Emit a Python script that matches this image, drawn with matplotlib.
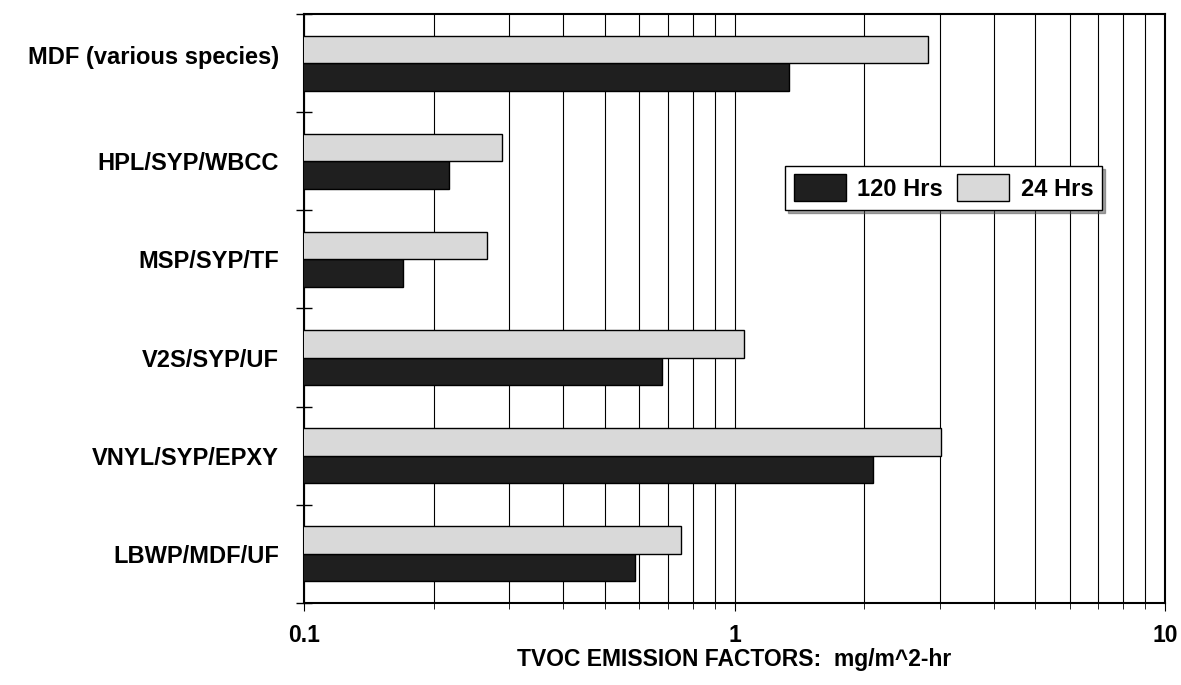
import numpy as np
import matplotlib
matplotlib.use('Agg')
import matplotlib.pyplot as plt
import matplotlib.transforms as mtransforms

# Daten
materials = ["MDF (various species)", "HPL/SYP/WBCC", "MSP/SYP/TF",
             "V2S/SYP/UF", "VNYL/SYP/EPXY", "LBWP/MDF/UF"]
hrs_120 = [1.34, 0.217, 0.170, 0.68, 2.10, 0.587]
hrs_24 = [2.81, 0.288, 0.266, 1.05, 3.02, 0.751]

plt.rcParams['font.family'] = ['Liberation Sans', 'DejaVu Sans']
plt.rcParams['font.weight'] = 'bold'

fig = plt.figure(figsize=(11.81, 6.85), dpi=100)
ax = fig.add_axes([0.2574, 0.1197, 0.7291, 0.8599])

y = np.arange(len(materials))
h = 0.28

# Balken
b120 = ax.barh(y + h / 2, hrs_120, height=h, color='#1f1f1f',
               edgecolor='black', linewidth=1, zorder=3, label='120 Hrs')
b24 = ax.barh(y - h / 2, hrs_24, height=h, color='#d9d9d9',
              edgecolor='black', linewidth=1, zorder=3, label='24 Hrs')

ax.set_xscale('log')
ax.set_xlim(0.1, 10)
ax.set_ylim(len(materials) - 0.5, -0.5)

# Gitterlinien
ax.grid(which='both', axis='x', color='black', linewidth=0.8, zorder=1)

# x-Achse
ax.set_xticks([0.1, 1, 10])
ax.set_xticklabels(['0.1', '1', '10'], fontsize=16.5, fontweight='bold')
ax.tick_params(axis='x', which='major', direction='out', length=6, pad=9)
ax.tick_params(axis='x', which='minor', direction='out', length=4, labelbottom=False)
ax.set_xlabel('TVOC EMISSION FACTORS:  mg/m^2-hr', fontsize=16.5,
              fontweight='bold', labelpad=1)

# y-Achse: Striche an den Grenzen, Beschriftungen in der Mitte
ax.set_yticks(np.arange(len(materials) + 1) - 0.5)
ax.set_yticklabels([])
ax.tick_params(axis='y', which='major', direction='inout', length=12, width=1)
ax.set_yticks(y, minor=True)
ax.set_yticklabels(materials, minor=True, fontsize=17, fontweight='bold')
ax.tick_params(axis='y', which='minor', length=0, pad=18)

# erste Beschriftung etwas nach oben
lbl = ax.get_yticklabels(minor=True)[0]
lbl.set_transform(lbl.get_transform() +
                  mtransforms.ScaledTranslation(0, 0.08, fig.dpi_scale_trans))

for s in ax.spines.values():
    s.set_linewidth(1.5)
    s.set_color('black')

# Legende
leg = ax.legend(handles=[b120, b24], loc='upper left',
                bbox_to_anchor=(0.559, 0.742), ncol=2, fontsize=17,
                frameon=True, fancybox=False, shadow=True,
                edgecolor='black', framealpha=1,
                handlelength=2.2, handleheight=1.4, columnspacing=0.6,
                handletextpad=0.5, borderpad=0.35, borderaxespad=0)
leg.get_frame().set_linewidth(1)
for t in leg.get_texts():
    t.set_fontweight('bold')

fig.savefig('out.png', dpi=100)
